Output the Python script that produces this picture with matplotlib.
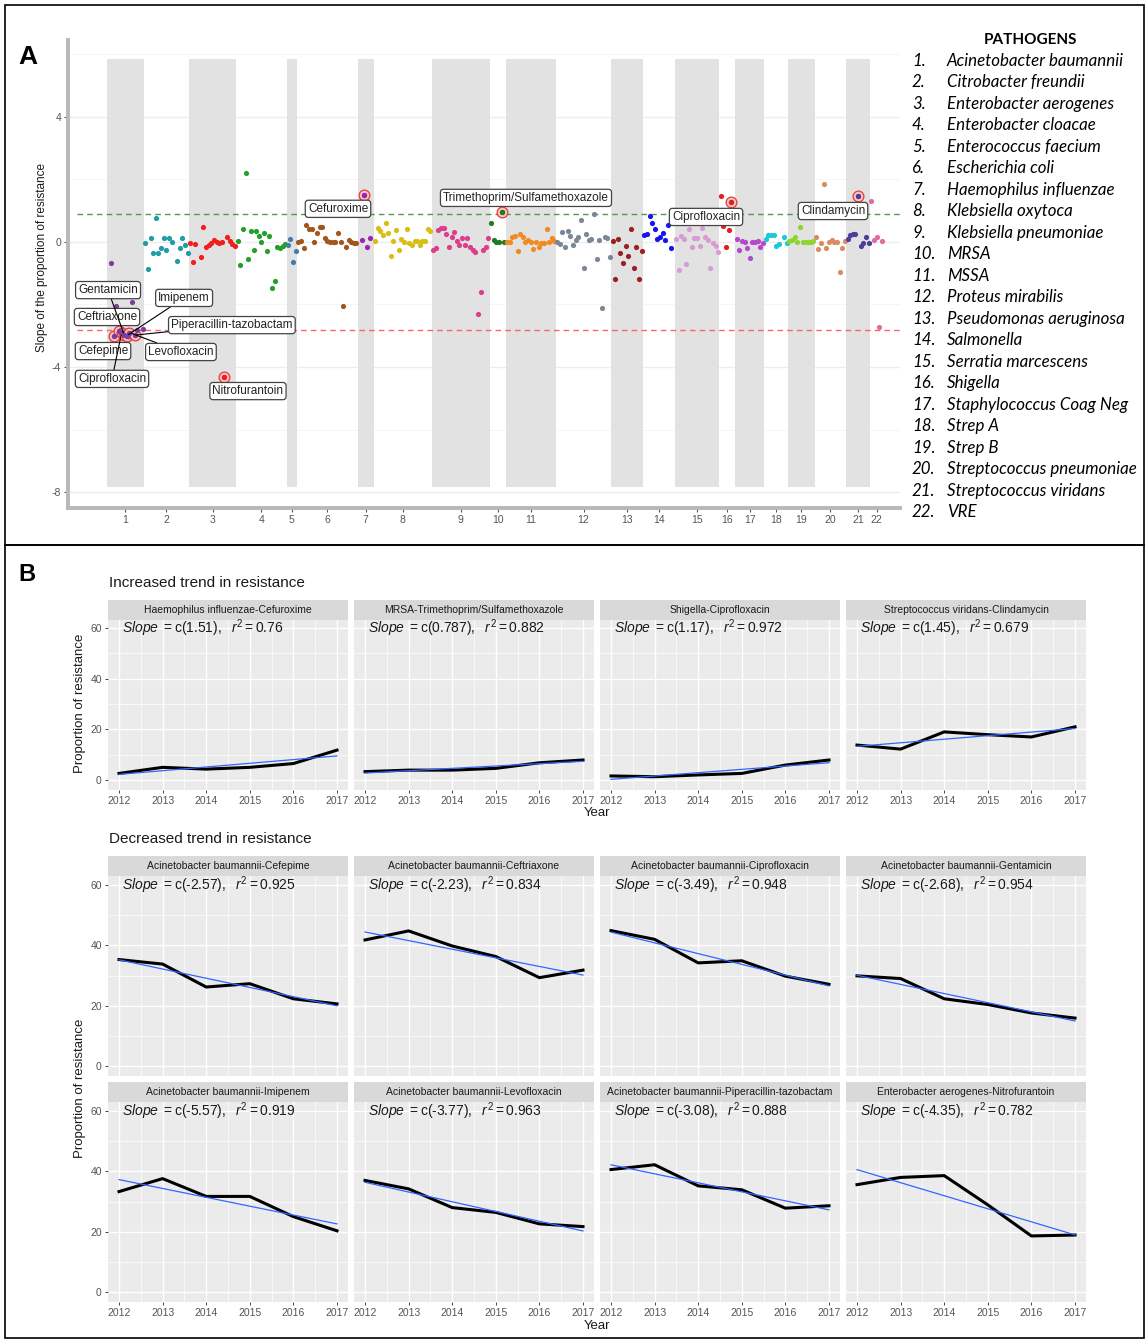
import numpy as np
import matplotlib
matplotlib.use("Agg")
import matplotlib.pyplot as plt
from matplotlib.patches import Rectangle

nan = np.nan

# ---------------------------------------------------------------- data (A)
pathogens = [
    "Acinetobacter baumannii", "Citrobacter freundii", "Enterobacter aerogenes",
    "Enterobacter cloacae", "Enterococcus faecium", "Escherichia coli",
    "Haemophilus influenzae", "Klebsiella oxytoca", "Klebsiella pneumoniae",
    "MRSA", "MSSA", "Proteus mirabilis", "Pseudomonas aeruginosa", "Salmonella",
    "Serratia marcescens", "Shigella", "Staphylococcus Coag Neg", "Strep A",
    "Strep B", "Streptococcus pneumoniae", "Streptococcus viridans", "VRE",
]

# slope of the proportion of resistance for each pathogen-antibiotic pair,
# in axis order (nan = no estimate for that antibiotic)
slope_01 = [nan, -0.66, -3.00, -2.04, -2.84, -2.92, -2.97, -3.00, -2.90, -1.91, -2.98, -2.82, nan, -2.78]
slope_02 = [-0.02, -0.85, 0.12, -0.34, 0.76, -0.34, -0.20, 0.12, -0.26, 0.12, 0.01, nan, -0.60, -0.18, 0.12, -0.10, -0.36]
slope_03 = [-0.02, -0.64, -0.06, nan, -0.47, 0.47, -0.17, -0.10, -0.04, 0.06, 0.01, -0.03, 0.01, -4.31, 0.15, 0.02, -0.05, -0.12]
slope_04 = [0.03, -0.75, 0.41, 2.22, -0.53, 0.35, -0.26, 0.35, 0.19, 0.00, 0.30, -0.29, 0.19, -1.46, -1.24, -0.15, -0.18, -0.13, -0.06]
slope_05 = [-0.10, 0.09, -0.63, -0.28]
slope_06 = [0.01, 0.02, -0.18, 0.53, 0.43, 0.42, 0.00, 0.30, 0.49, 0.47, 0.14, 0.03, 0.01, 0.01, 0.01, 0.28, 0.00, -2.05, -0.17, 0.05, 0.01, -0.02, -0.03]
slope_07 = [nan, 0.05, 1.51, -0.17, 0.12, nan]
slope_08 = [0.03, 0.44, 0.36, 0.22, 0.62, 0.30, -0.45, 0.03, 0.38, -0.26, 0.09, 0.01, 0.42, -0.04, -0.11, 0.04, 0.03, -0.11, 0.04, 0.03, 0.41, 0.36]
slope_09 = [-0.26, -0.20, 0.38, 0.44, 0.44, 0.26, -0.15, 0.15, 0.31, 0.04, -0.10, 0.12, -0.10, 0.12, -0.17, -0.26, -0.33, -2.30, -1.59, -0.26, -0.15, 0.12]
slope_10 = [0.62, 0.05, 0.00, 0.00, 0.95, 0.01]
slope_11 = [0.00, 0.01, 0.15, 0.19, -0.28, 0.26, 0.15, 0.01, 0.06, 0.00, -0.23, 0.00, -0.17, -0.04, -0.04, 0.41, 0.00, 0.12, 0.03]
slope_12 = [0.00, -0.06, 0.33, -0.17, 0.36, 0.19, -0.10, 0.06, 0.17, 0.70, -0.84, 0.26, 0.06, 0.10, 0.89, -0.55, 0.06, -2.12, 0.17, 0.14, -0.49]
slope_13 = [0.03, -1.18, 0.09, -0.36, -0.66, -0.13, -0.45, 0.41, -0.84, -0.15, -1.18, -0.28]
slope_14 = [0.22, 0.26, 0.83, 0.60, 0.42, 0.10, 0.15, 0.30, 0.06, 0.54, -0.18, nan]
slope_15 = [0.09, -0.90, 0.19, 0.09, -0.71, 0.41, -0.17, 0.12, 0.12, -0.13, 0.44, 0.15, 0.06, -0.84, -0.02, -0.13, -0.31]
slope_16 = [1.47, 0.50, -0.15, 0.38, 1.28, nan]
slope_17 = [0.09, -0.26, 0.04, 0.01, -0.20, -0.52, 0.01, 0.01, 0.03, -0.17, -0.02]
slope_18 = [0.09, 0.22, 0.23, 0.22, -0.13, -0.07, nan, 0.17, -0.02]
slope_19 = [0.04, 0.06, 0.17, 0.01, 0.49, 0.01, 0.00, 0.01, 0.01, 0.03]
slope_20 = [0.15, -0.23, -0.04, 1.85, -0.20, 0.01, 0.06, 0.00, 0.01, -0.95, -0.20, 0.03]
slope_21 = [0.09, 0.22, 0.26, 0.26, 1.47, -0.13, -0.04, 0.15, -0.04]
slope_22 = [1.32, 0.06, 0.15, -2.71, 0.03]

slopes = [slope_01, slope_02, slope_03, slope_04, slope_05, slope_06, slope_07,
          slope_08, slope_09, slope_10, slope_11, slope_12, slope_13, slope_14,
          slope_15, slope_16, slope_17, slope_18, slope_19, slope_20, slope_21,
          slope_22]

upper_threshold = 0.89
lower_threshold = -2.82

# flagged pairs: (pathogen number, position within pathogen, antibiotic)
flagged = [
    (1, 2, "Cefepime"), (1, 4, "Ceftriaxone"), (1, 5, "Ciprofloxacin"),
    (1, 6, "Gentamicin"), (1, 7, "Imipenem"), (1, 8, "Levofloxacin"),
    (1, 10, "Piperacillin-tazobactam"), (3, 13, "Nitrofurantoin"),
    (7, 2, "Cefuroxime"), (10, 4, "Trimethoprim/Sulfamethoxazole"),
    (16, 4, "Ciprofloxacin"), (21, 4, "Clindamycin"),
]

# ---------------------------------------------------------------- data (B)
years = [2012, 2013, 2014, 2015, 2016, 2017]

inc_titles = ["Haemophilus influenzae-Cefuroxime", "MRSA-Trimethoprim/Sulfamethoxazole",
              "Shigella-Ciprofloxacin", "Streptococcus viridans-Clindamycin"]
inc_haemophilus_cefuroxime = [2.6, 5.0, 4.3, 5.0, 6.5, 11.8]
inc_mrsa_tmp_smx = [3.3, 3.9, 3.9, 4.6, 6.8, 7.9]
inc_shigella_ciprofloxacin = [1.6, 1.3, 2.0, 2.6, 5.9, 7.9]
inc_strep_viridans_clindamycin = [13.8, 12.2, 19.0, 17.9, 17.0, 21.0]
inc_slope_text = ["1.51", "0.787", "1.17", "1.45"]
inc_r2_text = ["0.76", "0.882", "0.972", "0.679"]

dec_titles = ["Acinetobacter baumannii-Cefepime", "Acinetobacter baumannii-Ceftriaxone",
              "Acinetobacter baumannii-Ciprofloxacin", "Acinetobacter baumannii-Gentamicin",
              "Acinetobacter baumannii-Imipenem", "Acinetobacter baumannii-Levofloxacin",
              "Acinetobacter baumannii-Piperacillin-tazobactam",
              "Enterobacter aerogenes-Nitrofurantoin"]
dec_cefepime = [35.3, 33.8, 26.2, 27.3, 22.3, 20.6]
dec_ceftriaxone = [41.8, 44.8, 39.8, 36.3, 29.3, 31.8]
dec_ciprofloxacin = [44.9, 42.0, 34.2, 34.9, 29.8, 27.1]
dec_gentamicin = [29.9, 29.0, 22.3, 20.4, 17.6, 15.9]
dec_imipenem = [33.3, 37.6, 31.7, 31.7, 25.0, 20.3]
dec_levofloxacin = [37.0, 34.2, 28.0, 26.4, 22.6, 21.7]
dec_pip_tazo = [40.6, 42.2, 35.2, 33.9, 27.8, 28.6]
dec_nitrofurantoin = [35.6, 38.0, 38.6, 28.9, 18.6, 18.9]
dec_slope_text = ["-2.57", "-2.23", "-3.49", "-2.68", "-5.57", "-3.77", "-3.08", "-4.35"]
dec_r2_text = ["0.925", "0.834", "0.948", "0.954", "0.919", "0.963", "0.888", "0.782"]

# ---------------------------------------------------------------- styling
point_colors = [
    "#7E3C9D", "#1E9CA8", "#F21D1D", "#22A02A", "#4A7AAA", "#A0561C",
    "#9C21B5", "#D6BE12", "#DD3D8C", "#1E7B1E", "#F28A1E", "#7A8896",
    "#9B2020", "#1515F0", "#D99BD3", "#E02020", "#B548CC", "#1CC8DA",
    "#8ED42A", "#D98C62", "#4B3E9C", "#DE6BA3",
]

# label placement for the flagged pairs (axis index, slope) and whether a
# leader segment is drawn
flag_layout = [
    (-1.5, -3.49, False), (0.0, -2.40, False), (1.9, -4.38, True),
    (0.4, -1.54, True), (29.2, -1.79, True), (28.0, -3.52, True),
    (47.3, -2.66, True), (53.4, -4.77, False), (87.5, 1.06, False),
    (158.7, 1.41, False), (226.9, 0.80, False), (275.0, 0.99, False),
]

plt.rcParams["font.family"] = ["Liberation Sans", "DejaVu Sans"]
plt.rcParams["mathtext.fontset"] = "custom"
plt.rcParams["mathtext.rm"] = "Liberation Sans"
plt.rcParams["mathtext.it"] = "Liberation Sans:italic"
plt.rcParams["axes.unicode_minus"] = False

W, H = 1145, 1339
fig = plt.figure(figsize=(W / 100, H / 100), dpi=100)


def frect(l, t, r, b):
    return [l / W, 1 - b / H, (r - l) / W, (b - t) / H]


# outer frames of the two panels
for (l, t, r, b) in [(5, 5, 1144, 545), (5, 545, 1144, 1338)]:
    fig.add_artist(Rectangle((l / W, 1 - b / H), (r - l) / W, (b - t) / H,
                             transform=fig.transFigure, fill=False,
                             ec="black", lw=1.2))

fig.text(18 / W, 1 - 57 / H, "A", fontsize=19, fontweight="bold", va="center")
fig.text(18 / W, 1 - 574 / H, "B", fontsize=17, fontweight="bold", va="center")

# ---------------------------------------------------------------- panel A
axA = fig.add_axes(frect(68, 40, 900, 508))
step = 2.64          # pixels per antibiotic slot
origin = 107
axA.set_xlim((68 - origin) / step, (900 - origin) / step)
axA.set_ylim(-8.51, 6.46)

counts = [len(s) for s in slopes]
starts = np.concatenate([[0], np.cumsum(counts)[:-1]])

for y in [-8, -4, 0, 4]:
    axA.axhline(y, color="#EDEDED", lw=1.0, zorder=0)
for y in [-6, -2, 2, 6]:
    axA.axhline(y, color="#F4F4F4", lw=0.6, zorder=0)

for g, (st, n) in enumerate(zip(starts, counts)):
    if g % 2 == 0:
        axA.add_patch(Rectangle((st, -7.85), n, 13.7, fc="#E2E2E2", ec="none", zorder=1))

axA.hlines(upper_threshold, (77 - origin) / step, axA.get_xlim()[1],
           colors="#4E9A4E", linestyles=(0, (4, 3)), lw=1.0, zorder=2)
axA.hlines(lower_threshold, (77 - origin) / step, axA.get_xlim()[1],
           colors="#FF6464", linestyles=(0, (4, 3)), lw=1.0, zorder=2)

for g, vals in enumerate(slopes):
    xs = starts[g] + 0.5 + np.arange(len(vals))
    axA.scatter(xs, vals, s=14, color=point_colors[g], lw=0, zorder=4)

for (pg, pos, name), (lx, ly, seg) in zip(flagged, flag_layout):
    px = starts[pg - 1] + 0.5 + pos
    py = slopes[pg - 1][pos]
    axA.scatter([px], [py], s=60, facecolor="#F7C4C4", edgecolor="#E83A3A",
                lw=0.9, zorder=3)
    axA.scatter([px], [py], s=14, color=point_colors[pg - 1], lw=0, zorder=5)
    axA.annotate(name, xy=(px, py), xytext=(lx, ly), ha="center", va="center",
                 fontsize=8.5, color="#222222", zorder=6,
                 bbox=dict(boxstyle="round,pad=0.22,rounding_size=0.25",
                           fc="white", ec="#444444", lw=0.9),
                 arrowprops=(dict(arrowstyle="-", color="black", lw=0.8,
                                  shrinkA=0, shrinkB=1.5) if seg else None))

centers = starts + np.array(counts) / 2
axA.set_xticks(centers)
axA.set_xticklabels([str(i + 1) for i in range(len(pathogens))])
axA.set_yticks([-8, -4, 0, 4])
axA.set_yticklabels(["-8", "-4", "0", "4"])
axA.tick_params(axis="both", length=3, width=0.8, color="#555555",
                labelsize=7.5, labelcolor="#555555", pad=2)
for side in ["top", "right"]:
    axA.spines[side].set_visible(False)
for side in ["left", "bottom"]:
    axA.spines[side].set_color("#B8B8B8")
    axA.spines[side].set_linewidth(2.8)
axA.set_facecolor("white")
fig.text(42 / W, 1 - 258 / H, "Slope of the proportion of resistance",
         rotation=90, ha="center", va="center", fontsize=8.5, color="#1A1A1A")

# pathogen key
fig.text(1030 / W, 1 - 40 / H, "PATHOGENS", ha="center", va="center",
         fontsize=11, fontweight="bold", family=["Lato", "DejaVu Sans"])
for i, name in enumerate(pathogens):
    yy = 1 - (61 + i * 21.48) / H
    fig.text(912 / W, yy, f"{i + 1}.", ha="left", va="center", fontsize=12.2,
             style="italic", family=["Lato", "DejaVu Sans"])
    fig.text(947 / W, yy, name, ha="left", va="center", fontsize=12.2,
             style="italic", family=["Lato", "DejaVu Sans"])

# ---------------------------------------------------------------- panel B
panel_w = 239.8
col_left = [108.1, 354.1, 600.1, 846.1]


def facet(l, t, b, title, values, slope_txt, r2_txt, ylim, xlabels, ylabels):
    r = l + panel_w
    sax = fig.add_axes(frect(l, t - 20, r, t))
    sax.set_facecolor("#D9D9D9")
    sax.set_xticks([])
    sax.set_yticks([])
    for sp in sax.spines.values():
        sp.set_visible(False)
    sax.text(0.5, 0.5, title, ha="center", va="center", fontsize=7.5,
             color="#1A1A1A", transform=sax.transAxes)

    ax = fig.add_axes(frect(l, t, r, b))
    ax.set_facecolor("#EBEBEB")
    ax.set_xlim(2011.75, 2017.25)
    ax.set_ylim(*ylim)
    ax.set_xticks(years)
    ax.set_xticks([2012.5, 2013.5, 2014.5, 2015.5, 2016.5], minor=True)
    ax.set_yticks([0, 20, 40, 60])
    ax.set_yticks([10, 30, 50], minor=True)
    ax.grid(which="major", color="white", lw=1.0)
    ax.grid(which="minor", color="white", lw=0.5)
    ax.set_axisbelow(True)
    for sp in ax.spines.values():
        sp.set_visible(False)
    ax.tick_params(which="minor", length=0)
    ax.tick_params(which="major", length=2.5, width=0.7, color="#444444",
                   labelsize=7.5, labelcolor="#555555", pad=2)
    if not xlabels:
        ax.tick_params(axis="x", which="major", length=0, labelbottom=False)
    if not ylabels:
        ax.tick_params(axis="y", which="major", length=0, labelleft=False)

    ax.plot(years, values, color="black", lw=2.2, zorder=3)
    fit = np.polyfit(years, values, 1)
    ax.plot(years, np.polyval(fit, years), color="#3366FF", lw=0.9, zorder=4)
    eq = (r"$\mathit{Slope}\ =\text{c(" + slope_txt + r")},\ \ \mathit{r}^{2}=\text{"
          + r2_txt + "}$")
    ax.text(0.06, 60, eq, transform=ax.get_yaxis_transform(), ha="left",
            va="center", fontsize=10, color="#1A1A1A")
    return ax


fig.text(109 / W, 1 - 583 / H, "Increased trend in resistance", ha="left",
         va="center", fontsize=11, color="#1A1A1A")
inc_series = [inc_haemophilus_cefuroxime, inc_mrsa_tmp_smx,
              inc_shigella_ciprofloxacin, inc_strep_viridans_clindamycin]
for j in range(4):
    facet(col_left[j], 620, 790, inc_titles[j], inc_series[j], inc_slope_text[j],
          inc_r2_text[j], (-3.95, 63.2), True, j == 0)
fig.text(597 / W, 1 - 813 / H, "Year", ha="center", va="center", fontsize=9.5,
         color="#1A1A1A")
fig.text(80 / W, 1 - 703 / H, "Proportion of resistance", rotation=90,
         ha="center", va="center", fontsize=9.5, color="#1A1A1A")

fig.text(109 / W, 1 - 839 / H, "Decreased trend in resistance", ha="left",
         va="center", fontsize=11, color="#1A1A1A")
dec_series = [dec_cefepime, dec_ceftriaxone, dec_ciprofloxacin, dec_gentamicin,
              dec_imipenem, dec_levofloxacin, dec_pip_tazo, dec_nitrofurantoin]
for k in range(8):
    row, j = divmod(k, 4)
    top = 876 if row == 0 else 1102
    facet(col_left[j], top, top + 200, dec_titles[k], dec_series[k],
          dec_slope_text[k], dec_r2_text[k], (-3.3, 63.0), row == 1, j == 0)
fig.text(597 / W, 1 - 1326 / H, "Year", ha="center", va="center", fontsize=9.5,
         color="#1A1A1A")
fig.text(80 / W, 1 - 1088 / H, "Proportion of resistance", rotation=90,
         ha="center", va="center", fontsize=9.5, color="#1A1A1A")

fig.savefig("out.png", dpi=100)
